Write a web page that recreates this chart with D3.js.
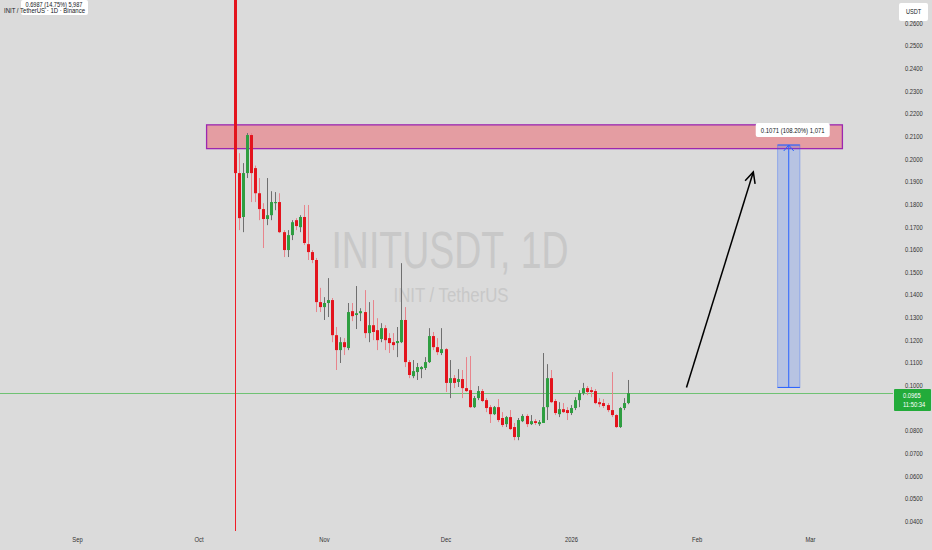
<!DOCTYPE html>
<html><head><meta charset="utf-8">
<script src="https://cdn.jsdelivr.net/npm/d3@7"></script>
<style>body{margin:0;background:#dbdbdb;} svg{display:block;font-family:"Liberation Sans",Arial,sans-serif;}</style>
</head><body><svg id="c" width="932" height="550"></svg>
<script>
// ---------- data ----------
const startDate = "2025-10-10"; // first daily candle
const opens  = [0.3100,0.1937,0.1743,0.1937,0.2105,0.1959,0.1848,0.1778,0.1734,0.1751,0.1804,0.1809,0.1676,0.1597,0.1663,0.1729,0.1698,0.1743,0.1623,0.1588,
                0.1553,0.1367,0.1345,0.1363,0.1376,0.1221,0.1155,0.1190,0.1164,0.1327,0.1310,0.1318,0.1323,0.1230,0.1265,0.1243,0.1204,0.1252,0.1208,0.1190,
                0.1186,0.1190,0.1288,0.1102,0.1040,0.1058,0.1071,0.1076,0.1102,0.1217,0.1168,0.1142,0.1159,0.1010,0.1031,0.1014,0.1027,0.0987,0.0978,0.0903,
                0.0943,0.0974,0.0934,0.0903,0.0872,0.0903,0.0855,0.0828,0.0859,0.0815,0.0771,0.0841,0.0864,0.0828,0.0841,0.0828,0.0833,0.0903,0.1031,0.0930,
                0.0872,0.0894,0.0890,0.0877,0.0899,0.0934,0.0965,0.0987,0.0978,0.0974,0.0925,0.0921,0.0912,0.0890,0.0868,0.0815,0.0899,0.0921];
const highs  = [0.6987,0.2025,0.1981,0.2114,0.2114,0.1970,0.1915,0.1804,0.1915,0.1857,0.1853,0.1848,0.1685,0.1685,0.1729,0.1738,0.1751,0.1796,0.1796,0.1597,
                0.1562,0.1430,0.1389,0.1473,0.1385,0.1257,0.1212,0.1208,0.1363,0.1363,0.1438,0.1340,0.1420,0.1367,0.1376,0.1296,0.1274,0.1265,0.1230,0.1230,
                0.1257,0.1539,0.1345,0.1111,0.1111,0.1098,0.1084,0.1124,0.1252,0.1235,0.1208,0.1252,0.1164,0.1111,0.1045,0.1071,0.1067,0.1124,0.1129,0.0952,
                0.0996,0.0983,0.0943,0.0912,0.0908,0.0939,0.0881,0.0864,0.0890,0.0833,0.0855,0.0872,0.0872,0.0868,0.0850,0.0846,0.1142,0.1093,0.1067,0.0939,
                0.0925,0.0921,0.0903,0.0912,0.0947,0.0978,0.1010,0.0996,0.0992,0.0983,0.0943,0.0939,0.0921,0.1058,0.0872,0.0903,0.0943,0.1023];
const lows   = [0.1890,0.1685,0.1676,0.1915,0.1809,0.1809,0.1729,0.1606,0.1707,0.1729,0.1773,0.1672,0.1566,0.1566,0.1641,0.1685,0.1676,0.1619,0.1553,0.1539,
                0.1323,0.1323,0.1288,0.1301,0.1190,0.1067,0.1098,0.1133,0.1155,0.1283,0.1248,0.1283,0.1208,0.1190,0.1199,0.1155,0.1190,0.1155,0.1142,0.1155,
                0.1124,0.1186,0.1080,0.1031,0.1031,0.1023,0.1031,0.1067,0.1098,0.1155,0.1133,0.1133,0.0970,0.0943,0.0987,0.0992,0.0943,0.0970,0.0899,0.0899,
                0.0934,0.0925,0.0881,0.0833,0.0868,0.0837,0.0815,0.0815,0.0802,0.0757,0.0757,0.0837,0.0815,0.0824,0.0824,0.0820,0.0833,0.0846,0.0921,0.0868,
                0.0859,0.0877,0.0846,0.0868,0.0890,0.0903,0.0956,0.0956,0.0947,0.0916,0.0903,0.0899,0.0881,0.0859,0.0811,0.0811,0.0890,0.0916];
const closes = [0.1937,0.1738,0.1937,0.2105,0.1937,0.1848,0.1778,0.1734,0.1751,0.1809,0.1809,0.1676,0.1597,0.1663,0.1720,0.1703,0.1743,0.1628,0.1588,0.1553,
                0.1367,0.1345,0.1363,0.1376,0.1221,0.1155,0.1190,0.1168,0.1323,0.1305,0.1318,0.1327,0.1230,0.1265,0.1235,0.1199,0.1252,0.1199,0.1186,0.1177,
                0.1195,0.1288,0.1102,0.1045,0.1062,0.1080,0.1080,0.1102,0.1217,0.1168,0.1146,0.1159,0.1010,0.1031,0.1010,0.1027,0.0987,0.0974,0.0903,0.0943,
                0.0974,0.0930,0.0899,0.0872,0.0903,0.0846,0.0824,0.0859,0.0806,0.0771,0.0846,0.0864,0.0828,0.0841,0.0833,0.0837,0.0903,0.1031,0.0925,0.0877,
                0.0894,0.0881,0.0877,0.0899,0.0934,0.0965,0.0987,0.0970,0.0970,0.0921,0.0916,0.0908,0.0890,0.0868,0.0815,0.0899,0.0921,0.0965];

const priceTicks = [0.26,0.25,0.24,0.23,0.22,0.21,0.20,0.19,0.18,0.17,0.16,0.15,0.14,0.13,0.12,0.11,0.10,0.09,0.08,0.07,0.06,0.05,0.04];
const monthTickDates = ["2025-09-01","2025-10-01","2025-11-01","2025-12-01","2026-01-01","2026-02-01","2026-03-01"];
const monthTickLabels = ["Sep","Oct","Nov","Dec","2026","Feb","Mar"];

const title = "INIT / TetherUS · 1D · Binance";
const highLabel = "0.6987 (14.75%) 5,987";
const watermark = "INITUSDT, 1D";
const watermarkSub = "INIT / TetherUS";
const currentPrice = 0.0965;
const countdown = "11:50:34";
const currency = "USDT";
const markerDate = "2025-10-10";
const zoneStart = "2025-10-03", zoneEnd = "2026-03-09", zoneTop = 0.2150, zoneBottom = 0.2045;
const measureStart = "2026-02-21", measureEnd = "2026-02-26T12:00", measureFrom = 0.0990, measureTo = 0.2061;
const measureLabel = "0.1071 (108.20%) 1,071";
const arrowFrom = {date:"2026-01-29T12:00", price:0.0990}, arrowTo = {date:"2026-02-15", price:0.1942};

// ---------- setup ----------
const W = 932, H = 550, plotRight = 893, plotBottom = 531;
const bg = "#dbdbdb";
const pd = s => new Date(s.length > 10 ? s + "Z" : s + "T00:00Z");
const svg = d3.select("#c");
svg.append("rect").attr("width", W).attr("height", H).attr("fill", bg);

const x = d3.scaleUtc().domain([pd("2025-09-01"), pd("2026-03-01")]).range([77, 810]);
const y = d3.scaleLinear().domain([0.04, 0.26]).range([521, 23]);

svg.append("clipPath").attr("id", "pc").append("rect").attr("x", 0).attr("y", 0).attr("width", plotRight).attr("height", plotBottom);
const plot = svg.append("g").attr("clip-path", "url(#pc)");

function sqText(g, txt, px, py, size, sx, anchor, fill, weight) {
  return g.append("text").attr("transform", `translate(${px},${py}) scale(${sx},1)`)
    .attr("text-anchor", anchor || "start").attr("font-size", size).attr("fill", fill || "#131722")
    .attr("font-weight", weight || "normal").text(txt);
}

// watermark
sqText(plot, watermark, 450, 268, 52, 0.72, "middle", "#c8c8c8");
sqText(plot, watermarkSub, 451, 302, 21, 0.8, "middle", "#c8c8c8");

// zone
plot.append("rect").attr("x", x(pd(zoneStart))).attr("y", y(zoneTop))
  .attr("width", x(pd(zoneEnd)) - x(pd(zoneStart))).attr("height", y(zoneBottom) - y(zoneTop))
  .attr("fill", "rgba(242,54,69,0.38)").attr("stroke", "#9c27b0").attr("stroke-width", 1.3);

// current price line
const cpl = Math.round(y(currentPrice)) + 0.5;
plot.append("line").attr("x1", 0).attr("x2", plotRight).attr("y1", cpl).attr("y2", cpl)
  .attr("stroke", "#6fc273").attr("stroke-width", 1).attr("shape-rendering", "crispEdges");

// vertical marker
const mx = Math.round(x(pd(markerDate))) + 0.5;
plot.append("line").attr("x1", mx).attr("x2", mx).attr("y1", 0).attr("y2", plotBottom)
  .attr("stroke", "#f01c26").attr("stroke-width", 1).attr("shape-rendering", "crispEdges");

// candles
const candles = opens.map((o, i) => ({date: d3.utcDay.offset(pd(startDate), i), o, h: highs[i], l: lows[i], c: closes[i]}));
const cg = plot.append("g");
candles.forEach((d, i) => {
  const cx = Math.round(x(d.date));
  const up = d.c >= d.o;
  cg.append("line").attr("x1", cx + 0.5).attr("x2", cx + 0.5).attr("y1", y(d.h)).attr("y2", y(d.l))
    .attr("stroke", i === 0 ? "#f01c26" : (up ? "#6f6f6f" : "#e8848c")).attr("stroke-width", 1);
  const top = y(Math.max(d.o, d.c)), bot = y(Math.min(d.o, d.c));
  cg.append("rect").attr("x", cx - 1).attr("width", 3).attr("y", top).attr("height", Math.max(1, bot - top))
    .attr("fill", up ? "#2f9e41" : "#e3141d");
});

// measure tool
const m0 = x(pd(measureStart)), m1 = x(pd(measureEnd)), mTop = y(measureTo), mBot = y(measureFrom), mc = (m0 + m1) / 2;
plot.append("rect").attr("x", m0).attr("y", mTop).attr("width", m1 - m0).attr("height", mBot - mTop)
  .attr("fill", "rgba(41,98,255,0.2)").attr("stroke", "rgba(41,98,255,0.35)").attr("stroke-width", 1);
[mTop, mBot].forEach(v => plot.append("line").attr("x1", m0).attr("x2", m1).attr("y1", v).attr("y2", v).attr("stroke", "#2962ff").attr("stroke-width", 1));
plot.append("line").attr("x1", mc).attr("x2", mc).attr("y1", mBot).attr("y2", mTop).attr("stroke", "#2962ff").attr("stroke-width", 1);
plot.append("path").attr("d", `M${mc - 5},${mTop + 6}L${mc},${mTop}L${mc + 5},${mTop + 6}`).attr("fill", "none").attr("stroke", "#2962ff").attr("stroke-width", 1);
plot.append("rect").attr("x", mc - 33).attr("y", 123).attr("width", 74).attr("height", 14).attr("rx", 2).attr("fill", "#ffffff");
sqText(plot, measureLabel, mc + 4, 132.5, 7, 0.85, "middle", "#131722");

// black arrow
const ax0 = x(pd(arrowFrom.date)), ay0 = y(arrowFrom.price), ax1 = x(pd(arrowTo.date)), ay1 = y(arrowTo.price);
plot.append("line").attr("x1", ax0).attr("y1", ay0).attr("x2", ax1).attr("y2", ay1).attr("stroke", "#000").attr("stroke-width", 1.5);
{
  const ang = Math.atan2(ay0 - ay1, ax0 - ax1), L = 12, sp = 0.45;
  const p1 = [ax1 + L * Math.cos(ang + sp), ay1 + L * Math.sin(ang + sp)];
  const p2 = [ax1 + L * Math.cos(ang - sp), ay1 + L * Math.sin(ang - sp)];
  plot.append("path").attr("d", `M${p1}L${ax1},${ay1}L${p2}`).attr("fill", "none").attr("stroke", "#000").attr("stroke-width", 1.5);
}

// ---------- axes ----------
const yAxis = d3.axisRight(y).tickValues(priceTicks).tickFormat(d3.format(".4f")).tickSize(0).tickPadding(0);
const ya = svg.append("g").attr("transform", `translate(905,0)`).call(yAxis);
ya.select(".domain").remove();
ya.selectAll("text").attr("font-size", 7.3).attr("fill", "#333").attr("font-family", "'Liberation Sans',Arial,sans-serif")
  .attr("x", 0).attr("transform", "scale(0.8,1)");

const xAxis = d3.axisBottom(x).tickValues(monthTickDates.map(pd)).tickFormat((d, i) => monthTickLabels[i]).tickSize(0).tickPadding(0);
const xa = svg.append("g").attr("transform", `translate(0,537)`).call(xAxis);
xa.select(".domain").remove();
xa.selectAll("text").attr("font-size", 7.3).attr("fill", "#333").attr("font-family", "'Liberation Sans',Arial,sans-serif")
  .attr("transform", "scale(0.8,1)").attr("x", 0).attr("text-anchor", "middle");

// current price label
const cpY = y(currentPrice);
svg.append("rect").attr("x", 894).attr("y", cpY - 4).attr("width", 37).attr("height", 22).attr("fill", "#22ab3a").attr("rx", 1);
sqText(svg, d3.format(".4f")(currentPrice), 903, cpY + 5, 7.3, 0.8, "start", "#ffffff");
sqText(svg, countdown, 903, cpY + 14, 7.3, 0.8, "start", "#ffffff");

// currency box
svg.append("rect").attr("x", 899).attr("y", 3).attr("width", 29).attr("height", 18).attr("rx", 2).attr("fill", "#ffffff");
sqText(svg, currency, 913.5, 14, 7, 0.8, "middle", "#131722");

// title legend with overlapping high label
svg.append("rect").attr("x", 21).attr("y", 0).attr("width", 67).attr("height", 15).attr("rx", 2).attr("fill", "#ffffff");
sqText(svg, highLabel, 54, 7, 7, 0.8, "middle", "#131722");
sqText(svg, title, 4, 13, 7.5, 0.8, "start", "#131722");
</script></body></html>
